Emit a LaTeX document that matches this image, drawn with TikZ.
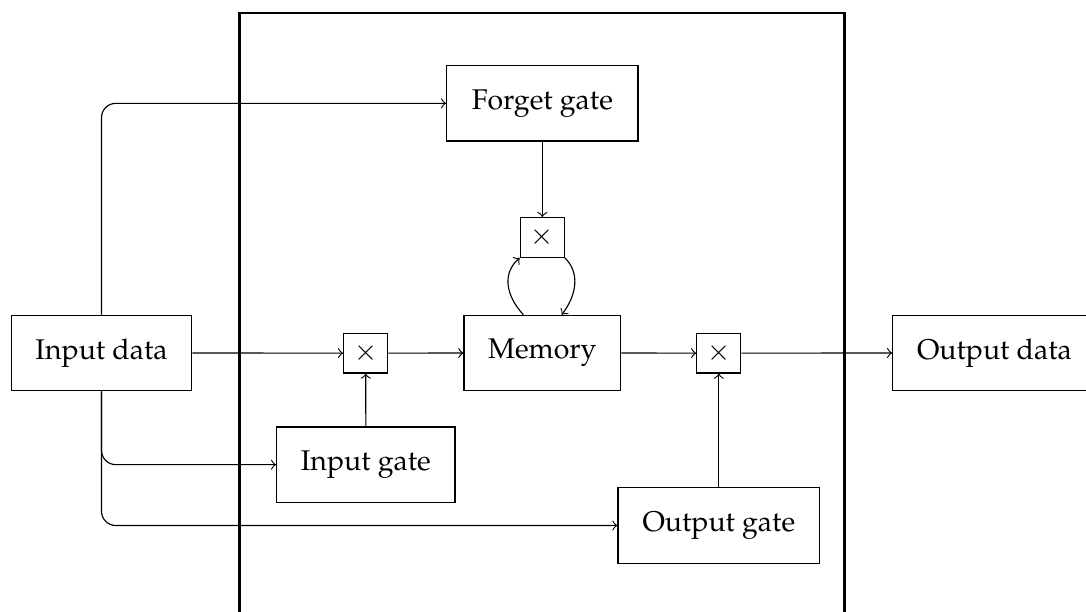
\documentclass[tikz,border=0pt]{standalone}
\usepackage[T1]{fontenc}
\usepackage{mathpazo}
\usetikzlibrary{calc}
\tikzset{
  blk/.style={draw, inner sep=0pt, minimum height=26.46pt},
  mul/.style={draw, inner sep=0pt, minimum width=15.45pt, minimum height=13.93pt},
  conn/.style={->},
  elbowconn/.style={->, rounded corners=5pt},
  frame/.style={thick}
}
\begin{document}
\begin{tikzpicture}[x=0.3509pt,y=-0.3509pt]
\useasboundingbox (0,0) rectangle (1086,612);
\draw[frame] (239.6,12.8) rectangle (844.4,640);

\node[blk, minimum width=63.3pt]  (indata)  at (101.5,353)    {Input data};
\node[blk, minimum width=67.13pt] (forget)  at (542.35,103.35) {Forget gate};
\node[blk, minimum width=54.99pt] (memory)  at (542.35,353)   {Memory};
\node[blk, minimum width=62.57pt] (ingate)  at (365.85,464.65) {Input gate};
\node[blk, minimum width=70.78pt] (outgate) at (718.85,525.5)  {Output gate};
\node[blk, minimum width=71.34pt] (outdata) at (994.4,353)    {Output data};
\node[mul] (m1) at (365.7,353.15)  {$\times$};
\node[mul] (m2) at (718.85,353.15) {$\times$};
\node[mul] (m3) at (542.35,237.5)  {$\times$};

\draw[conn] (indata.east) -- (m1.west);
\draw[conn] (m1.east) -- (memory.west);
\draw[conn] (memory.east) -- (m2.west);
\draw[conn] (m2.east) -- (outdata.west);
\draw[conn] (ingate.north) -- (m1.south);
\draw[conn] (outgate.north) -- (m2.south);
\draw[conn] (forget.south) -- (m3.north);

\draw[elbowconn] (indata.north) |- (forget.west);
\draw[elbowconn] (indata.south) |- (ingate.west);
\draw[elbowconn] (indata.south) |- (outgate.west);

\draw[conn] ($(memory.north)+(-19,0)$) .. controls +(-18.3,-20) and +(-17.3,14.7) .. (m3.south west);
\draw[conn] (m3.south east) .. controls +(15,14.7) and +(15.3,-20) .. ($(memory.north)+(19.3,0)$);
\end{tikzpicture}
\end{document}
